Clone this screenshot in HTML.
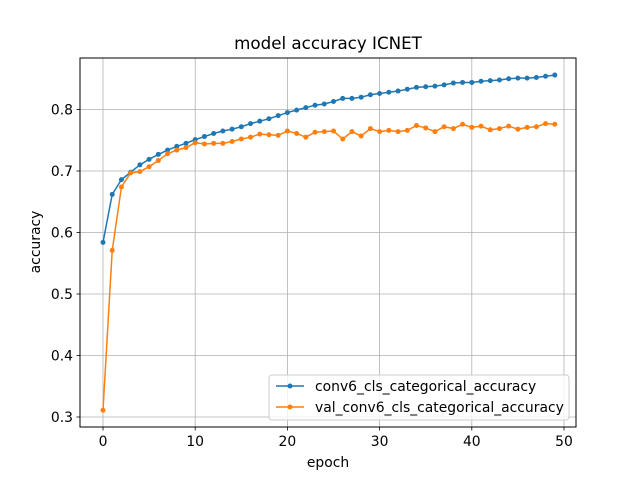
<!DOCTYPE html>
<html><head><meta charset="utf-8"><style>
body{margin:0;background:#fff;}
svg{font-family:"DejaVu Sans","Liberation Sans",sans-serif;}
</style></head><body>
<svg id="chart" width="640" height="480" viewBox="0 0 640 480" xmlns="http://www.w3.org/2000/svg">
<rect width="640" height="480" fill="#fff"/>
<text x="328" y="49" font-size="16.7" text-anchor="middle">model accuracy ICNET</text>
<g id="grid"></g>
<g id="series"></g>
<rect x="80" y="58" width="496" height="369" fill="none" stroke="#000" stroke-width="1"/>
<g id="ticks"></g>
<text x="328" y="467" font-size="13.9" text-anchor="middle">epoch</text>
<text transform="translate(40,242) rotate(-90)" font-size="13.9" text-anchor="middle">accuracy</text>
<g>
<rect x="269" y="375" width="300" height="45" rx="3" fill="#fff" fill-opacity="0.8" stroke="#ccc"/>
<line x1="276" y1="386" x2="304" y2="386" stroke="#1f77b4" stroke-width="1.5"/><circle cx="290" cy="386" r="2.5" fill="#1f77b4"/>
<text x="315" y="391" font-size="13.9">conv6_cls_categorical_accuracy</text>
<line x1="276" y1="407" x2="304" y2="407" stroke="#ff7f0e" stroke-width="1.5"/><circle cx="290" cy="407" r="2.5" fill="#ff7f0e"/>
<text x="315" y="412" font-size="13.9">val_conv6_cls_categorical_accuracy</text>
</g>
</svg>
<script>
const epochs=[...Array(50).keys()];
const trainAcc=[0.584,0.662,0.686,0.698,0.710,0.719,0.727,0.734,0.740,0.745,0.751,0.756,0.761,0.765,0.768,0.772,0.777,0.781,0.785,0.790,0.795,0.799,0.803,0.807,0.809,0.813,0.818,0.818,0.820,0.824,0.826,0.828,0.830,0.833,0.836,0.837,0.838,0.840,0.843,0.844,0.844,0.846,0.847,0.848,0.850,0.851,0.851,0.852,0.854,0.856];
const valAcc=[0.311,0.571,0.674,0.697,0.699,0.707,0.717,0.728,0.734,0.738,0.746,0.744,0.745,0.745,0.748,0.752,0.755,0.760,0.759,0.758,0.765,0.761,0.755,0.763,0.764,0.765,0.752,0.764,0.757,0.769,0.764,0.766,0.764,0.766,0.774,0.770,0.764,0.772,0.769,0.776,0.771,0.773,0.767,0.769,0.773,0.768,0.771,0.772,0.777,0.776];
const xTicks=[0,10,20,30,40,50];
const yTicks=[0.3,0.4,0.5,0.6,0.7,0.8];
const X=v=>103+v*9.22;
const Y=v=>417-(v-0.3)*615;
const NS="http://www.w3.org/2000/svg";
const grid=document.getElementById('grid'),ticks=document.getElementById('ticks'),ser=document.getElementById('series');
function mk(tag,attrs,parent){const e=document.createElementNS(NS,tag);for(const k in attrs)e.setAttribute(k,attrs[k]);parent.appendChild(e);return e;}
xTicks.forEach(t=>{
 const g=mk('line',{x1:X(t),x2:X(t),y1:58,y2:427,stroke:'#b0b0b0','stroke-width':0.8},grid);
 
 
 mk('line',{x1:X(t),x2:X(t),y1:427,y2:430.5,stroke:'#000','stroke-width':0.8},ticks);
 const tx=mk('text',{x:X(t),y:446,'font-size':13.9,'text-anchor':'middle'},ticks);tx.textContent=t;
 
 
});
yTicks.forEach(t=>{
 const g=mk('line',{x1:80,x2:576,y1:Y(t),y2:Y(t),stroke:'#b0b0b0','stroke-width':0.8},grid);
 
 
 mk('line',{x1:76.5,x2:80,y1:Y(t),y2:Y(t),stroke:'#000','stroke-width':0.8},ticks);
 const tx=mk('text',{x:73,y:Y(t)+5,'font-size':13.9,'text-anchor':'end'},ticks);tx.textContent=t.toFixed(1);
 
 
});
function draw(vals,color,name){
 const p=mk('polyline',{points:vals.map((v,i)=>X(epochs[i])+','+Y(v)).join(' '),fill:'none',stroke:color,'stroke-width':1.5},ser);
 
 
 vals.forEach((v,i)=>{const c=mk('circle',{cx:X(epochs[i]),cy:Y(v),r:2.5,fill:color},ser);
 
 });
}
draw(trainAcc,'#1f77b4','train-accuracy');
draw(valAcc,'#ff7f0e','val-accuracy');
</script>
</body></html>
